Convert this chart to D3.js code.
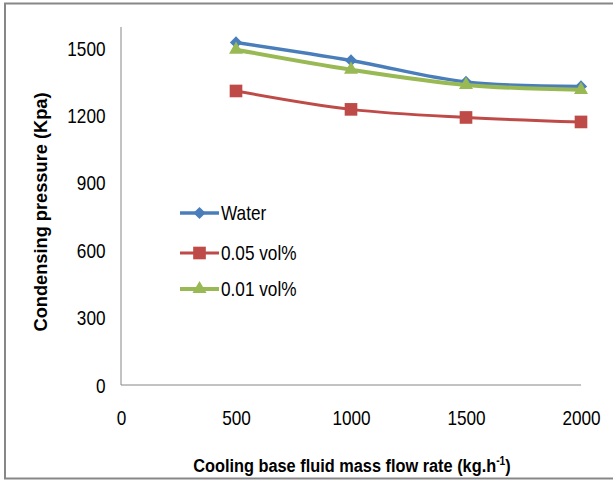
<!DOCTYPE html>
<html>
<head>
<meta charset="utf-8">
<script src="https://cdn.jsdelivr.net/npm/d3@7"></script>
<style>
html,body{margin:0;padding:0;background:#fff;}
svg{display:block;}
text{font-family:"Liberation Sans",Arial,sans-serif;fill:#000;}
</style>
</head>
<body>
<svg id="chart" width="613" height="481"></svg>
<script>
const flowRates = [500, 1000, 1500, 2000];
const waterValues = [1526, 1446, 1350, 1330];
const vol005Values = [1310, 1228, 1192, 1172];
const vol001Values = [1494, 1405, 1337, 1315];
const seriesNames = ["Water", "0.05 vol%", "0.01 vol%"];
const xTicks = [0, 500, 1000, 1500, 2000];
const yTicks = [0, 300, 600, 900, 1200, 1500];

const diamond = {draw(ctx, size) { const r = Math.sqrt(size) / 2 * Math.SQRT2; ctx.moveTo(0, -r); ctx.lineTo(r, 0); ctx.lineTo(0, r); ctx.lineTo(-r, 0); ctx.closePath(); }};

const series = [
  {name: seriesNames[0], values: waterValues, color: "#4a7ebb", symbol: diamond, size: 75, width: 3.5},
  {name: seriesNames[1], values: vol005Values, color: "#be4b48", symbol: d3.symbolSquare, size: 160, width: 3},
  {name: seriesNames[2], values: vol001Values, color: "#98b954", symbol: d3.symbolTriangle, size: 85, width: 4}
];

const svg = d3.select("#chart");
const SX = 0.86;

// outer border
svg.append("rect").attr("x", 5).attr("y", 3.5).attr("width", 620).attr("height", 475)
  .attr("fill", "none").attr("stroke", "#878787").attr("stroke-width", 2);

const x = d3.scaleLinear().domain([0, 2000]).range([121, 581]);
const y = d3.scaleLinear().domain([0, 1595]).range([385, 27]);

// axes lines
svg.append("line").attr("x1", x(0)).attr("x2", x(0)).attr("y1", y(1595)).attr("y2", y(0))
  .attr("stroke", "#868686").attr("stroke-width", 1);
svg.append("line").attr("x1", x(0)).attr("x2", x(2000)).attr("y1", y(0)).attr("y2", y(0))
  .attr("stroke", "#868686").attr("stroke-width", 1);

const yAxis = d3.axisLeft(y).tickValues(yTicks).tickSize(0).tickPadding(18).tickFormat(d3.format("d"));
const gy = svg.append("g").attr("transform", `translate(${x(0)},0)`).call(yAxis);
gy.select(".domain").remove();
gy.selectAll("text").style("font-size", "20px").attr("dy", "0.35em").attr("transform", `scale(${SX},1)`);

const xAxis = d3.axisBottom(x).tickValues(xTicks).tickSize(0).tickPadding(26).tickFormat(d3.format("d"));
const gx = svg.append("g").attr("transform", `translate(0,${y(0)})`).call(xAxis);
gx.select(".domain").remove();
gx.selectAll("text").style("font-size", "20px").attr("dy", "0.71em").attr("transform", `scale(${SX},1)`);

// lines
const line = d3.line().x((d, i) => x(flowRates[i])).y(d => y(d)).curve(d3.curveCatmullRom.alpha(0.5));

series.forEach(s => {
  svg.append("path").datum(s.values).attr("d", line)
    .attr("fill", "none").attr("stroke", s.color).attr("stroke-width", s.width)
    .attr("stroke-linejoin", "round");
  svg.selectAll(null).data(s.values).enter().append("path")
    .attr("d", d3.symbol().type(s.symbol).size(s.size))
    .attr("transform", (d, i) => `translate(${x(flowRates[i])},${y(d)})`)
    .attr("fill", s.color);
});

// legend
const legendY = [213, 253, 289];
series.forEach((s, i) => {
  const g = svg.append("g").attr("transform", `translate(180,${legendY[i]})`);
  g.append("line").attr("x1", 0).attr("x2", 39).attr("y1", 0).attr("y2", 0)
    .attr("stroke", s.color).attr("stroke-width", s.width);
  g.append("path").attr("d", d3.symbol().type(s.symbol).size(s.size))
    .attr("transform", "translate(19.5,0)").attr("fill", s.color);
  g.append("text").attr("transform", `translate(41,0) scale(${SX},1)`).attr("dy", "0.35em")
    .style("font-size", "20px").text(s.name);
});

// axis titles
svg.append("text").attr("transform", "translate(47,212) rotate(-90) scale(0.96,1)")
  .attr("text-anchor", "middle").style("font-size", "19px").style("font-weight", "bold")
  .text("Condensing pressure (Kpa)");

const xt = svg.append("text").attr("transform", `translate(352,472) scale(${SX},1)`).attr("text-anchor", "middle")
  .style("font-size", "19px").style("font-weight", "bold");
xt.append("tspan").text("Cooling base fluid mass flow rate (kg.h");
xt.append("tspan").attr("dy", -7).style("font-size", "12px").text("-1");
xt.append("tspan").attr("dy", 7).text(")");
</script>
</body>
</html>
